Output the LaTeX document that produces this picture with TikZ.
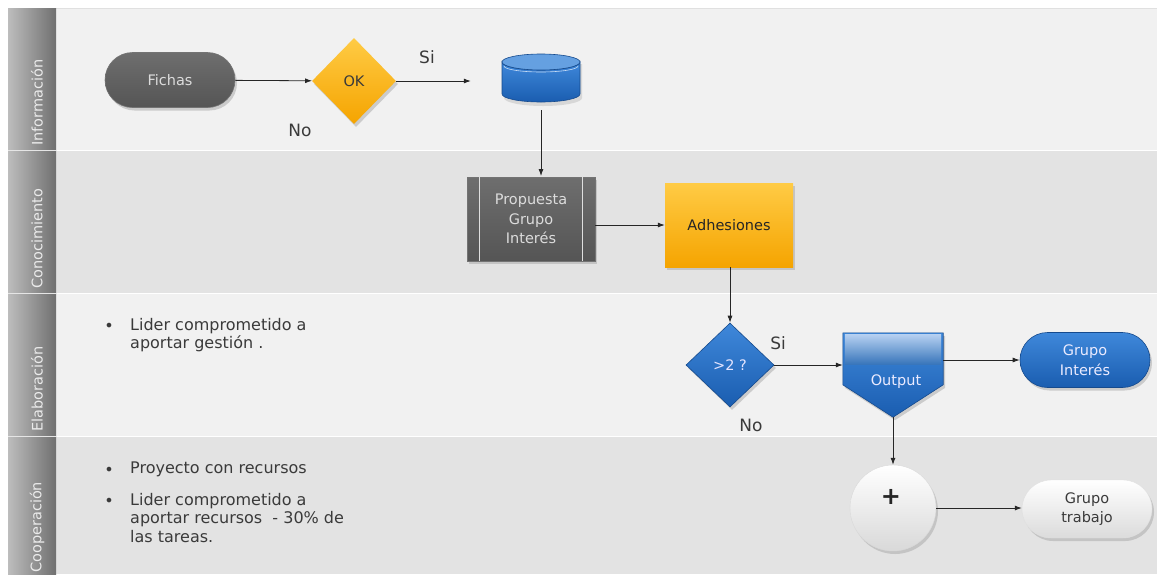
\documentclass[tikz,border=0pt]{standalone}
\usepackage{fontspec}
\setmainfont{DejaVu Sans}
\usetikzlibrary{arrows.meta,shapes.geometric,shapes.misc,shadows,calc}
\definecolor{lanelight}{HTML}{F1F1F1}
\definecolor{lanedark}{HTML}{E3E3E3}
\definecolor{bandL}{HTML}{BDBDBD}
\definecolor{bandR}{HTML}{707070}
\definecolor{dgrayT}{HTML}{6E6E6E}
\definecolor{dgrayB}{HTML}{555555}
\definecolor{orT}{HTML}{FFCB45}
\definecolor{orB}{HTML}{F5A400}
\definecolor{blT}{HTML}{3F88DA}
\definecolor{blB}{HTML}{1A5DB0}
\definecolor{blLight}{HTML}{B4CFF0}
\definecolor{txtgray}{HTML}{3A3A3A}
\definecolor{lighttxt}{HTML}{DCDCDC}
\begin{document}
\begin{tikzpicture}[x=1pt,y=-1pt,
  arr/.style={-{Latex[length=7pt,width=5pt]}, line width=0.8pt, black!85},
  shadowed/.style={drop shadow={shadow xshift=2pt,shadow yshift=-3pt,fill=black!35,opacity=0.5}},
  nodetxt/.style={font=\fontsize{14.5}{19.5}\selectfont},
  lbl/.style={font=\fontsize{17}{20}\selectfont, text=txtgray},
  bullettxt/.style={font=\fontsize{16}{18.5}\selectfont, text=txtgray, align=left, anchor=north west, inner sep=0},
  bulletdot/.style={font=\fontsize{16}{18.5}\selectfont, text=txtgray, inner sep=0},
  lanetxt/.style={font=\fontsize{14.5}{16}\selectfont, text=white!92!black, rotate=90, anchor=west, inner sep=0},
  pillbox/.style={rounded rectangle, minimum width=130, minimum height=55, inner sep=0, align=center, nodetxt},
  graybox/.style={top color=dgrayT, bottom color=dgrayB, draw=black!55, line width=0.6pt},
  orangefill/.style={top color=orT, bottom color=orB},
  bluefill/.style={top color=blT, bottom color=blB, draw=blB!80!black, line width=0.6pt}
]
\useasboundingbox (0,0) rectangle (1161,574);
\clip (0,0) rectangle (1161,574);
\fill[white] (0,0) rectangle (1161,574);
% lanes
\fill[lanelight] (56,8) rectangle (1157,150);
\fill[lanedark] (56,150) rectangle (1157,293);
\fill[lanelight] (56,293) rectangle (1157,436);
\fill[lanedark] (56,436) rectangle (1157,574);
\draw[black!12, line width=1pt] (56,8.5) -- (1157,8.5);
\draw[white, line width=1pt] (56,150) -- (1157,150) (56,293) -- (1157,293) (56,436) -- (1157,436);
% band
\shade[left color=bandL, right color=bandR] (8,8) rectangle (56,574);
\draw[white!80!gray, line width=0.8pt] (8,150) -- (56,150) (8,293) -- (56,293) (8,436) -- (56,436);
\node[lanetxt] (l1) at (37,146) {Información};
\node[lanetxt] (l2) at (37,289) {Conocimiento};
\node[lanetxt] (l3) at (37,432) {Elaboración};
\node[lanetxt] (l4) at (37,573) {Cooperación};

% Row 1
\node[pillbox, shadowed, graybox, text=lighttxt] (fichas) at (170,80) {Fichas};
\node[diamond, shadowed, orangefill, minimum width=84, minimum height=86, inner sep=0, nodetxt, text=txtgray] (ok) at (354,81) {OK};
\node[minimum width=80, minimum height=48, inner sep=0] (db) at (541,78) {};
% cylinder drawing
\fill[black!25, opacity=0.5] (504,64) -- (504,98) arc (180:0:39 and 8) -- (582,64) -- cycle;
\shade[top color=blT, bottom color=blB, draw=blB!80!black, line width=0.6pt]
  (502,62) -- (502,94) arc (180:0:39 and 8) -- (580,62) arc (0:180:39 and 8) -- cycle;
\fill[blT!80!white, draw=blB!80!black, line width=0.6pt] (541,62) ellipse (39 and 8);
\draw[white!70!blT, line width=0.6pt] (504,66) arc (180:0:37 and 6);

\node[lbl] (si1) at (427,57) {Si};
\node[lbl] (no1) at (300,130) {No};

\draw[arr] (fichas) -- (ok);
\draw[arr, shorten >=30pt] (ok.east) -- (ok.east -| db.west);
\draw[arr, shorten <=8pt] (db.south) -- (db.south |- 0,176);

% Row 2
\node[rectangle, shadowed, graybox, minimum width=128, minimum height=84, inner sep=0, align=center, nodetxt, text=lighttxt] (prop) at (531,219) {Propuesta\\Grupo\\Interés};
\draw[white!75!gray, line width=0.8pt] ([xshift=13pt]prop.north west) -- ([xshift=13pt]prop.south west);
\draw[white!75!gray, line width=0.8pt] ([xshift=-13pt]prop.north east) -- ([xshift=-13pt]prop.south east);
\node[rectangle, shadowed, orangefill, minimum width=128, minimum height=84, inner sep=0, nodetxt, text=black!85] (adh) at (729,225) {Adhesiones};

\draw[arr] (prop.east |- adh.west) -- (adh.west);

% Row 3
\node[diamond, shadowed, bluefill, minimum width=88, minimum height=84, inner sep=0, nodetxt, text=white!90!blue] (d2) at (730,365) {>2 ?};
\node[lbl] (si2) at (778,343) {Si};
\node[lbl] (no2) at (751,425) {No};
\draw[arr] (adh.south -| d2.north) -- (d2.north);

\node[minimum width=100, minimum height=84, inner sep=0] (out) at (893,375) {};
\fill[black!35, opacity=0.5] ($(out.north west)+(2,3)$) -- ($(out.north east)+(2,3)$) -- ($(out.north east)+(2,55)$) -- ($(out.south)+(2,3)$) -- ($(out.north west)+(2,55)$) -- cycle;
\shade[top color=blT, bottom color=blB, draw=blB!80!black, line width=0.6pt] (out.north west) -- (out.north east) -- ($(out.north east)+(0,52)$) -- (out.south) -- ($(out.north west)+(0,52)$) -- cycle;
\shade[top color=blLight, bottom color=blT!85!black] ($(out.north west)+(2,2)$) rectangle ($(out.north east)+(-2,32)$);
\node[nodetxt, text=white!92!blue] (outtxt) at (896,382) {Output};

\node[pillbox, shadowed, bluefill, text=white!92!blue] (gi) at (1085,360) {Grupo\\Interés};

\draw[arr] (d2.east) -- (d2.east -| out.west);
\draw[arr] (out.east |- gi.west) -- (gi.west);

% Row 4
\node[circle, shadowed, top color=white, bottom color=black!15, draw=black!15, minimum size=86, inner sep=0] (plus) at (893,508) {};
\node[font=\fontsize{24}{24}\bfseries, text=black!85, inner sep=0] (plustxt) at (891,497) {+};
\node[pillbox, shadowed, top color=white, bottom color=black!14, draw=black!12, minimum height=58, text=txtgray] (gt) at (1087,509) {Grupo\\trabajo};

\draw[arr] (out.south) -- (plus.north);
\draw[arr] (plus.east) -- (plus.east -| gt.west);

% Bullets
\node[bulletdot] (b1) at (109,327) {•};
\node[bullettxt] (t1) at (130,318) {Lider comprometido a\\aportar gestión .};
\node[bulletdot] (b2) at (109,471) {•};
\node[bullettxt] (t2) at (130,462) {Proyecto con recursos};
\node[bulletdot] (b3) at (109,502) {•};
\node[bullettxt] (t3) at (130,493) {Lider comprometido a\\aportar recursos\ \ - 30\% de\\las tareas.};
\end{tikzpicture}
\end{document}
